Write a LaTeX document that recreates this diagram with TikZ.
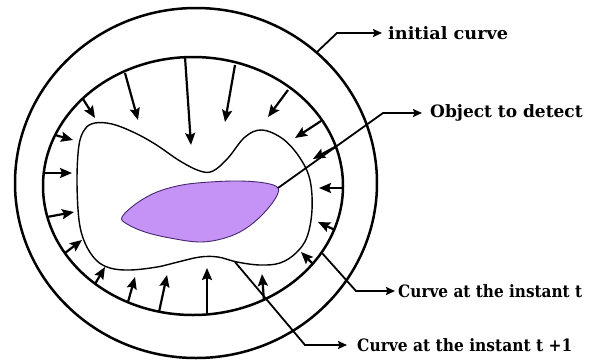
\documentclass[tikz,border=0pt]{standalone}
\usepackage{fontspec}
\setmainfont{DejaVu Serif}
\usetikzlibrary{arrows.meta}
\definecolor{objpurple}{RGB}{197,146,245}
\definecolor{objedge}{RGB}{70,40,110}
\tikzset{
  ring/.style={line width=2.5pt},
  contour/.style={line width=1.4pt},
  push/.style={line width=2.2pt,-{Stealth[length=12pt,width=10pt,inset=2pt]}},
  leader/.style={line width=1.8pt,-{Stealth[length=9pt,width=8pt,inset=1.5pt]}},
  lbl/.style={anchor=west,inner sep=0pt,font=\bfseries\fontsize{17}{20}\selectfont}
}
\begin{document}
\begin{tikzpicture}[x=1pt,y=-1pt]
\useasboundingbox (0,0) rectangle (595,360);
% object to detect
\draw[fill=objpurple,draw=objedge,line width=0.9pt] plot[smooth cycle,tension=0.6] coordinates {
  (122,217) (137,203) (157,192) (182,185) (210,182) (240,181) (265,183) (278,188)
  (275,199) (262,215) (245,229) (225,238) (200,242) (170,238) (145,232) (127,224)};
% curve at instant t+1
\draw[contour] plot[smooth cycle,tension=0.6] coordinates {
  (95,123) (112,124) (133,132) (155,144) (180,161) (200,171) (213,171) (228,158)
  (245,137) (262,130) (283,139) (300,158) (310,180) (312,210) (307,237) (296,253) (280,263)
  (260,265) (237,262) (218,257) (200,257) (178,262) (157,267) (130,270) (110,268)
  (96,260) (85,243) (79,220) (77,180) (79,145) (85,129)};
% curve at instant t
\draw[ring] (193,186) ellipse [x radius=150, y radius=129];
% initial curve
\draw[ring] (196,183) ellipse [x radius=181, y radius=175];
% inward arrows
\foreach \sx/\sy/\ex/\ey in {
  185/57/191/145, 125/73/138/120, 83/99/95/118, 55/135/73/140, 43/173/72/173,
  235/65/225/122, 288/90/268/117, 321/121/295/138, 335/147/313/159,
  47/217/74/212, 65/253/82/240, 95/284/105/267, 128/302/135/277, 159/312/167/275,
  207/315/207/268, 264/301/262/274, 313/264/301/252, 335/230/318/222, 343/188/319/188}
  \draw[push] (\sx,\sy) -- (\ex,\ey);
% labels
\node[lbl] (linit) at (388,33) {\scalebox{1.04}[1]{initial curve}};
\node[lbl] (lobj) at (430,113) {Object to detect};
\node[lbl] (lt) at (398,291) {\scalebox{0.9}[1]{Curve at the instant t}};
\node[lbl] (lt1) at (357,345) {\scalebox{0.91}[1]{Curve at the instant t +1}};
% leaders
\coordinate (oinit) at (317,52);
\coordinate (einit) at (337,33);
\coordinate (oobj) at (278,188);
\coordinate (eobj) at (383,113);
\coordinate (ot) at (322,253);
\coordinate (et) at (356,291);
\coordinate (ot1) at (235,262);
\coordinate (et1) at (305,345);
\draw[leader] (oinit) -- (einit) -- ([xshift=-6pt]linit.west);
\draw[leader] (oobj) -- (eobj) -- ([xshift=-8pt]lobj.west);
\draw[leader] (ot) -- (et) -- ([xshift=-3pt]lt.west);
\draw[leader] (ot1) -- (et1) -- ([xshift=-10pt]lt1.west);
\end{tikzpicture}
\end{document}
